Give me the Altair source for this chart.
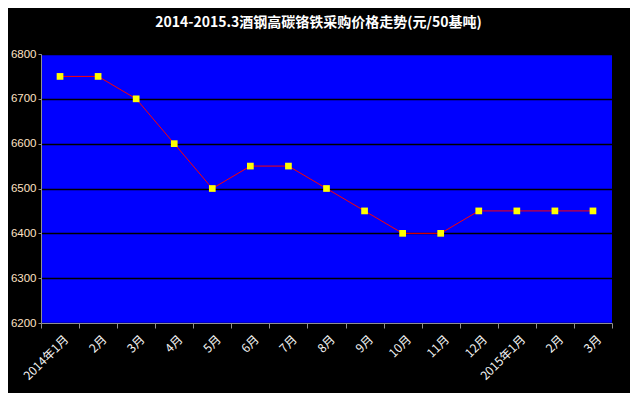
import altair as alt
import pandas as pd

months = ["2014年1月", "2月", "3月", "4月", "5月", "6月", "7月", "8月", "9月",
          "10月", "11月", "12月", "2015年1月", "2月 ", "3月 "]
prices = [6750, 6750, 6700, 6600, 6500, 6550, 6550, 6500, 6450,
          6400, 6400, 6450, 6450, 6450, 6450]
y_ticks = [6200, 6300, 6400, 6500, 6600, 6700, 6800]

df = pd.DataFrame({"month": months, "price": prices})

x = alt.X("month:N", sort=months, title=None,
          scale=alt.Scale(paddingInner=0, paddingOuter=0),
          axis=alt.Axis(labelAngle=315, labelAlign="right", labelBaseline="middle",
                        labelColor="#F4F4F4", labelFont="Noto Sans CJK SC", labelFontSize=12,
                        labelPadding=9, labelOffset=6, tickBand="extent", tickColor="#909090",
                        domainColor="#909090", tickSize=5, grid=False, labelOverlap=False))
y = alt.Y("price:Q", title=None,
          scale=alt.Scale(domain=[6200, 6800], nice=False, zero=False),
          axis=alt.Axis(values=y_ticks, format="d", labelColor="#FFE2C4",
                        labelFont="Liberation Sans", labelFontSize=11.5,
                        tickColor="#909090", domainColor="#909090",
                        tickSize=3, gridColor="#000000", gridWidth=1.5, labelPadding=2))

line = alt.Chart(df).mark_line(color="#FF0000", strokeWidth=1).encode(x=x, y=y)
pts = alt.Chart(df).mark_point(shape="square", filled=True, color="#FFFF00",
                               size=45, opacity=1).encode(x=x, y=y)

chart = (line + pts).properties(
    width=571, height=269,
    background="#000000",
    autosize=alt.AutoSizeParams(type="none"),
    padding={"left": 33, "top": 46, "right": 18, "bottom": 70},
    title=alt.TitleParams("2014-2015.3酒钢高碳铬铁采购价格走势(元/50基吨)",
                          color="#FFFFFF", font="Noto Sans CJK SC", fontSize=14,
                          fontWeight="bold", anchor="middle", offset=18, dx=-8),
).configure_view(fill="#0000FF", stroke=None)

chart.save("out.html", embed_options={"renderer": "svg", "actions": False})
